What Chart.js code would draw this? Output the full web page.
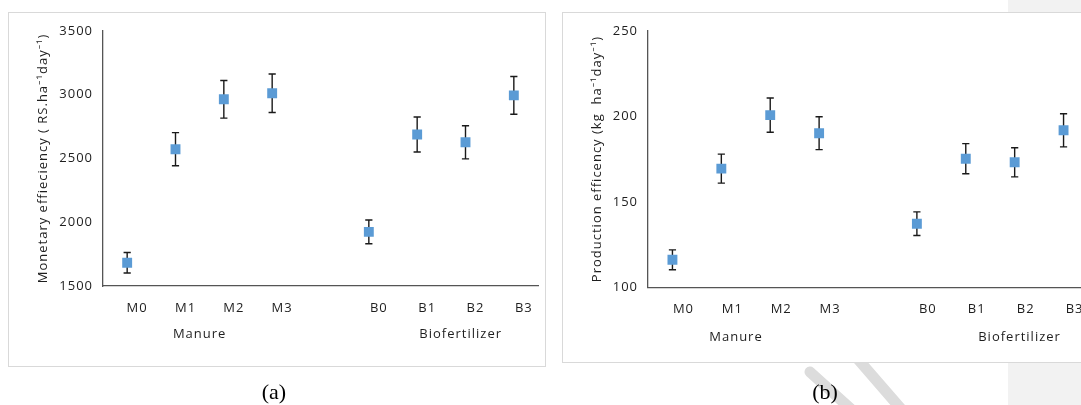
<!DOCTYPE html>
<html>
<head>
<meta charset="utf-8">
<script src="https://cdn.jsdelivr.net/npm/chart.js@4.4.1/dist/chart.umd.min.js"></script>
<style>
html,body{margin:0;padding:0;width:1081px;height:405px;overflow:hidden;background:#fff;position:relative;}
.side{position:absolute;left:1008px;top:0;width:73px;height:405px;background:#f2f2f2;}
.wm{position:absolute;left:0;top:0;}
.panel{position:absolute;background:#fff;border:1px solid #d9d9d9;}
.panel canvas{display:block;}
.cap{position:absolute;width:100px;text-align:center;font-family:'Liberation Serif','DejaVu Serif',serif;font-size:22px;line-height:22px;color:#000;}
</style>
</head>
<body>
<div class="side"></div>
<canvas id="wm" class="wm" width="1081" height="405"></canvas>
<div class="panel" style="left:8px;top:12px;width:536px;height:353px;"><canvas id="chartA" width="536" height="353" style="width:536px;height:353px;"></canvas></div>
<div class="panel" style="left:562px;top:12px;width:532px;height:349px;"><canvas id="chartB" width="532" height="349" style="width:532px;height:349px;"></canvas></div>
<div class="cap" style="left:224px;top:381px;">(a)</div>
<div class="cap" style="left:775px;top:381px;">(b)</div>
<script>
// ---- data ----
const categories = ['M0', 'M1', 'M2', 'M3', '', 'B0', 'B1', 'B2', 'B3'];
const groupNames = ['Manure', 'Biofertilizer'];
const monetaryValues = [1682, 2572, 2963, 3011, null, 1924, 2687, 2626, 2994];
const monetaryErrors = [80, 130, 147, 151, null, 93, 137, 130, 148];
const productionValues = [116.1, 169.4, 200.7, 190.1, null, 137.2, 175.2, 173.1, 191.8];
const productionErrors = [5.8, 8.5, 10.0, 9.6, null, 6.9, 8.8, 8.5, 9.7];
const monetaryTicks = [1500, 2000, 2500, 3000, 3500];
const productionTicks = [100, 150, 200, 250];
const monetaryTitle = 'Monetary effieciency ( RS.ha\u207B\u00B9day\u207B\u00B9)';
const productionTitle = 'Production efficency (kg  ha\u207B\u00B9day\u207B\u00B9)';

const FONT_FAMILY = "'Open Sans', 'Noto Sans', sans-serif";
const TEXT_COLOR = '#1e1e1e';
const MARKER_COLOR = '#5b9bd5';

// page decoration: faint diagonal watermark strokes below panel (b)
(function () {
  const c = document.getElementById('wm').getContext('2d');
  c.strokeStyle = '#dcdcdc';
  c.lineWidth = 11;
  c.lineCap = 'round';
  c.beginPath();
  c.moveTo(810, 372); c.lineTo(852, 410);
  c.moveTo(850, 350); c.lineTo(902, 410);
  c.stroke();
})();

const spacingPlugin = {
  id: 'spacing',
  beforeUpdate(chart) { chart.ctx.letterSpacing = '1px'; },
  beforeDraw(chart) { chart.ctx.letterSpacing = '1px'; }
};

const errorBarPlugin = {
  id: 'errorBars',
  beforeDatasetsDraw(chart, args, opts) {
    const ctx = chart.ctx;
    const ys = chart.scales.y;
    chart.data.datasets.forEach((ds, di) => {
      const meta = chart.getDatasetMeta(di);
      meta.data.forEach((pt, i) => {
        const v = ds.data[i], e = ds.errors[i];
        if (v == null || e == null) return;
        const x = pt.x;
        const yt = ys.getPixelForValue(v + e);
        const yb = ys.getPixelForValue(v - e);
        ctx.save();
        ctx.strokeStyle = opts.color;
        ctx.lineWidth = opts.width;
        ctx.beginPath();
        ctx.moveTo(x, yt); ctx.lineTo(x, yb);
        ctx.moveTo(x - opts.cap, yt); ctx.lineTo(x + opts.cap, yt);
        ctx.moveTo(x - opts.cap, yb); ctx.lineTo(x + opts.cap, yb);
        ctx.stroke();
        ctx.restore();
      });
    });
  }
};

const groupLabelPlugin = {
  id: 'groupLabels',
  afterDraw(chart, args, opts) {
    const ctx = chart.ctx;
    const xs = chart.scales.x;
    ctx.save();
    ctx.letterSpacing = '1px';
    ctx.font = '13px ' + FONT_FAMILY;
    ctx.fillStyle = TEXT_COLOR;
    ctx.textAlign = 'center';
    ctx.textBaseline = 'middle';
    groupNames.forEach((name, k) => {
      ctx.fillText(name, xs.getPixelForValue(opts.positions[k]), chart.chartArea.bottom + opts.offset);
    });
    ctx.restore();
  }
};

function makeChart(id, values, errors, ticks, title, cfg) {
  return new Chart(document.getElementById(id), {
    type: 'line',
    data: {
      labels: categories,
      datasets: [{
        data: values,
        errors: errors,
        showLine: false,
        pointStyle: 'rect',
        pointRadius: 7,
        pointBorderWidth: 0,
        pointBackgroundColor: MARKER_COLOR,
        pointBorderColor: MARKER_COLOR
      }]
    },
    options: {
      responsive: false,
      animation: false,
      events: [],
      layout: { padding: cfg.padding },
      plugins: {
        legend: { display: false },
        tooltip: { enabled: false },
        errorBars: { color: '#1a1a1a', width: 1.4, cap: 3.6 },
        groupLabels: { positions: cfg.groupPos, offset: cfg.groupOffset }
      },
      scales: {
        x: {
          type: 'category',
          offset: true,
          grid: { display: false, drawTicks: false },
          border: { display: true, color: '#555555', width: 1.3 },
          ticks: {
            color: TEXT_COLOR,
            font: { family: FONT_FAMILY, size: 13 },
            padding: 14,
            labelOffset: cfg.labelOffset,
            maxRotation: 0,
            autoSkip: false
          },
          afterFit(s) { s.height = 30; }
        },
        y: {
          min: ticks[0],
          max: ticks[ticks.length - 1],
          afterBuildTicks(s) { s.ticks = ticks.map(v => ({ value: v })); },
          grid: { display: false, drawTicks: false },
          border: { display: true, color: '#555555', width: 1.3 },
          ticks: {
            color: TEXT_COLOR,
            font: { family: FONT_FAMILY, size: 13 },
            padding: 10,
            callback: (v) => String(v)
          },
          title: {
            display: true,
            text: title,
            color: TEXT_COLOR,
            font: { family: FONT_FAMILY, size: 13 },
            padding: { top: 0, bottom: 0 }
          },
          afterFit(s) { s.width = cfg.yWidth; }
        }
      }
    },
    plugins: [spacingPlugin, errorBarPlugin, groupLabelPlugin]
  });
}

makeChart('chartA', monetaryValues, monetaryErrors, monetaryTicks, monetaryTitle, {
  padding: { left: 26, top: 12, right: 2, bottom: 50 },
  yWidth: 68,
  labelOffset: 10,
  groupPos: [1.5, 6.9],
  groupOffset: 48.5
});

makeChart('chartB', productionValues, productionErrors, productionTicks, productionTitle, {
  padding: { left: 26, top: 13.7, right: 3, bottom: 44.7 },
  yWidth: 59,
  labelOffset: 11,
  groupPos: [1.3, 7.1],
  groupOffset: 50
});
</script>
</body>
</html>
